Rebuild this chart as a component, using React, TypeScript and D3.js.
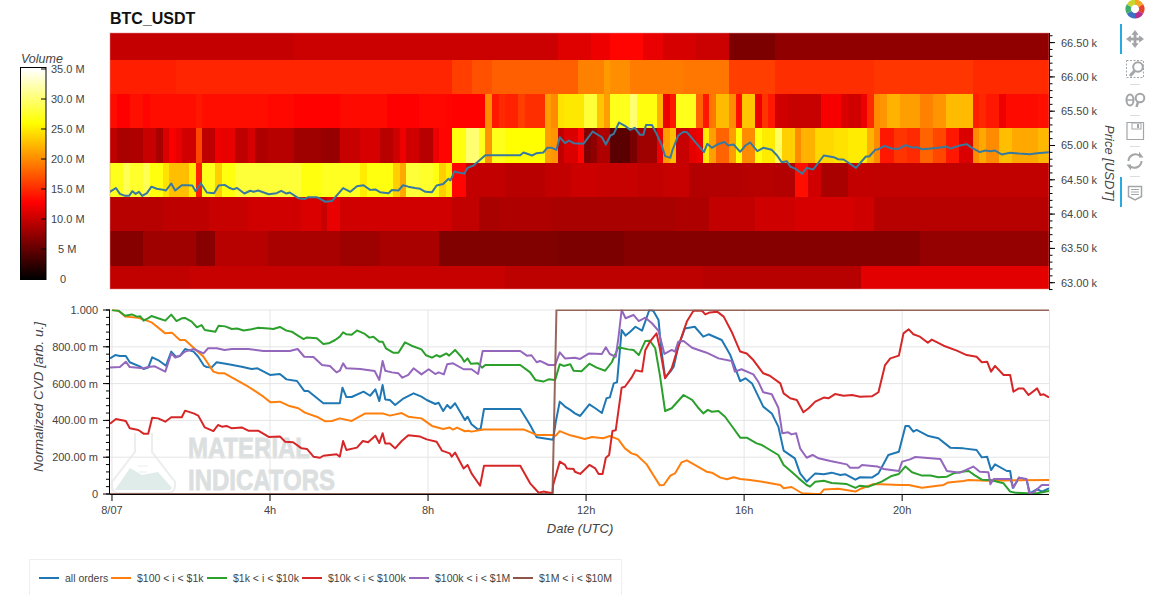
import React from "react";
import * as d3 from "d3";

type Pair = [number, number];

const title = "BTC_USDT";
const priceTicks = [63, 63.5, 64, 64.5, 65, 65.5, 66, 66.5];
const cvdTicks = [0, 0.2, 0.4, 0.6, 0.8, 1];
const cvdTickLabels = ["0", "200.00 m", "400.00 m", "600.00 m", "800.00 m", "1.000"];
const hourTicks = [0, 4, 8, 12, 16, 20];
const hourLabels = ["8/07", "4h", "8h", "12h", "16h", "20h"];
const volumeTicks = [0, 5, 10, 15, 20, 25, 30, 35];
const volumeLabels = ["0", "5 M", "10.0 M", "15.0 M", "20.0 M", "25.0 M", "30.0 M", "35.0 M"];

// heat rows: [first 10-minute column, volume in millions]
const vol66500: Pair[] = [[0,9.9],[28,10.2],[68,11.2],[73,12],[76,13],[81,11.7],[84,10.8],[89,10.2],[94,6.2],[101,7.3]];
const vol66000: Pair[] = [[0,14.4],[10,14.7],[52,16],[55,17],[58,17.7],[71,19.5],[75,20.8],[76,20.2],[79,19.2],[87,18.9],[94,16],[101,15.2],[116,15.6],[131,15]];
const vol65500: Pair[] = [[0,13.4],[1,12.8],[3,13.6],[5,13],[6,13.5],[13,14],[14,13.5],[24,13.2],[28,12.9],[35,13.3],[42,12.8],[47,13.2],[51,13],[52,12.9],[57,20.2],[58,14],[59,15],[60,14.5],[62,16],[63,15.2],[66,21],[67,20],[68,24.5],[69,24.8],[72,28],[74,23],[75,21],[76,27],[79,30],[80,26.5],[83,22],[84,12],[85,14],[86,27],[89,18],[90,14],[91,19],[92,22.5],[94,20],[95,13.5],[96,23],[98,12],[99,15.5],[100,14],[101,10.5],[103,10],[108,12.5],[111,11],[112,10.5],[114,12],[115,15],[116,20],[117,20.5],[118,22],[120,21],[123,19.5],[125,20.5],[127,22.5],[131,14.3],[132,14.8],[133,14],[135,12],[136,13.3],[141,13.6]];
const vol65000: Pair[] = [[0,9.6],[1,8.5],[3,8.8],[5,10],[7,8.5],[8,11],[9,12.5],[10,11.7],[11,10.5],[13,16.5],[14,9.6],[16,12],[17,11.7],[19,9.6],[21,10.8],[22,8.8],[24,9.2],[28,8],[32,7.6],[35,10],[38,10.8],[41,9.3],[43,10.5],[44,12],[45,10.5],[47,9.2],[49,12],[50,13],[52,26.5],[54,30],[56,27],[57,20.5],[58,27],[60,26],[66,21],[67,20.5],[68,9.6],[69,11],[71,13],[72,6.5],[73,7.2],[74,8.8],[76,4.5],[79,6],[80,8],[83,12],[84,21],[85,22.7],[86,10],[88,11.5],[89,12],[90,25],[91,21],[92,18],[94,21],[95,26],[96,20],[98,26.5],[99,25],[101,29.5],[102,23.5],[104,20],[105,22],[107,24],[110,24.5],[112,25],[115,22],[116,20],[117,14],[119,15.5],[121,15],[123,18],[125,16.5],[127,14],[129,11],[131,20],[132,21.5],[133,20],[135,22.7],[137,21.5],[141,22.3]];
const vol64500: Pair[] = [[0,27],[2,29],[3,27.5],[5,29],[6,26.5],[8,24.5],[9,22.7],[12,25],[13,14.5],[14,27],[16,23.5],[17,26.5],[19,28],[29,26.5],[32,27.2],[38,25],[39,26.5],[43,23.5],[44,21.5],[45,28],[47,27.5],[49,26.5],[50,23.5],[51,25],[52,13],[54,9.8],[60,9.3],[66,9.8],[70,10.3],[74,10],[80,9.7],[84,10],[88,9],[96,9.2],[101,9],[104,13.5],[106,10.5],[108,8.5],[112,9.8],[116,9.7]];
const vol64000: Pair[] = [[0,9.2],[8,9.6],[15,10],[21,10.5],[29,11],[32,10],[33,11.7],[35,10.5],[52,9.7],[56,8.5],[59,8.8],[67,8.5],[86,8.8],[91,9.8],[98,10.4],[104,10.8],[113,10.4],[116,9.2]];
const vol63500: Pair[] = [[0,6.8],[5,8],[13,6.9],[16,9.2],[24,8.5],[35,8],[41,8.5],[50,6.5],[68,6.2],[78,6.8],[123,7.5]];
const vol63000: Pair[] = [[0,9.7],[12,10],[60,9.5],[90,9.2],[114,11.4]];
const heatPrices = [66.5, 66, 65.5, 65, 64.5, 64, 63.5, 63];
const heatVolumes = [vol66500, vol66000, vol65500, vol65000, vol64500, vol64000, vol63500, vol63000];

// BTC price: [minute, price in thousands]
const pricePts: Pair[] = [[-4,64.32],[6,64.38],[12,64.295],[20,64.266],[26,64.266],[31,64.334],[36,64.295],[41,64.325],[46,64.266],[53,64.305],[60,64.4],[68,64.37],[75,64.36],[82,64.344],[90,64.446],[96,64.344],[106,64.42],[115,64.42],[122,64.417],[127,64.334],[135,64.45],[144,64.315],[155,64.305],[162,64.417],[171,64.426],[179,64.38],[184,64.36],[190,64.38],[201,64.3],[210,64.34],[215,64.325],[222,64.344],[238,64.29],[250,64.305],[257,64.34],[265,64.3],[270,64.315],[283,64.232],[293,64.22],[298,64.247],[311,64.247],[324,64.18],[334,64.19],[351,64.38],[362,64.325],[372,64.407],[382,64.42],[392,64.353],[400,64.36],[407,64.32],[420,64.305],[425,64.35],[435,64.344],[442,64.42],[450,64.4],[460,64.38],[468,64.368],[476,64.325],[486,64.32],[493,64.417],[503,64.44],[511,64.514],[514,64.49],[520,64.62],[526,64.606],[535,64.59],[540,64.674],[549,64.708],[567,64.859],[620,64.859],[625,64.898],[638,64.854],[645,64.888],[655,64.898],[661,64.966],[668,64.966],[675,64.937],[680,65.12],[688,65.034],[694,65.073],[701,65.034],[716,65.024],[730,65.204],[744,65.12],[750,65.014],[757,65.146],[762,65.17],[770,65.335],[779,65.287],[787,65.228],[794,65.258],[802,65.155],[807,65.155],[811,65.297],[820,65.3],[827,65.17],[835,65],[840,64.845],[848,64.82],[851,64.927],[860,65.146],[868,65.2],[873,65.194],[883,65.083],[899,64.903],[904,65.024],[911,64.966],[919,65.014],[930,65.05],[936,65],[944,65.014],[954,64.908],[962,65],[969,65.044],[980,64.917],[989,64.966],[1002,64.937],[1010,64.854],[1017,64.757],[1025,64.77],[1030,64.694],[1038,64.66],[1048,64.587],[1055,64.674],[1065,64.65],[1081,64.854],[1096,64.83],[1103,64.8],[1111,64.796],[1130,64.674],[1136,64.742],[1145,64.84],[1150,64.84],[1159,64.937],[1164,64.946],[1173,64.995],[1184,64.956],[1194,64.95],[1205,65.005],[1215,64.97],[1222,64.976],[1230,64.946],[1243,64.956],[1255,64.966],[1268,64.985],[1273,64.956],[1286,64.995],[1298,65.02],[1306,64.966],[1318,64.903],[1326,64.927],[1334,64.917],[1341,64.927],[1351,64.87],[1364,64.893],[1377,64.883],[1394,64.874],[1405,64.888],[1425,64.903]];

// normalized CVD: [minute, value]
const cvdAll: Pair[] = [[-3,0.737],[5,0.755],[12,0.75],[21,0.75],[27,0.716],[43,0.692],[48,0.679],[55,0.687],[61,0.743],[70,0.728],[82,0.697],[90,0.774],[97,0.746],[103,0.75],[111,0.788],[124,0.774],[131,0.746],[140,0.696],[144,0.69],[151,0.687],[159,0.716],[177,0.705],[197,0.692],[212,0.679],[221,0.683],[240,0.647],[255,0.652],[265,0.623],[281,0.614],[292,0.56],[298,0.56],[321,0.493],[346,0.493],[350,0.578],[356,0.527],[364,0.527],[382,0.556],[392,0.534],[400,0.569],[406,0.505],[411,0.592],[415,0.514],[422,0.511],[430,0.484],[443,0.52],[458,0.547],[470,0.529],[478,0.511],[491,0.489],[496,0.496],[503,0.451],[509,0.484],[514,0.466],[521,0.493],[536,0.402],[540,0.42],[546,0.379],[556,0.35],[560,0.357],[565,0.462],[620,0.462],[635,0.375],[645,0.308],[670,0.295],[674,0.393],[680,0.502],[688,0.475],[696,0.457],[703,0.438],[711,0.424],[725,0.487],[734,0.466],[744,0.44],[751,0.52],[756,0.525],[762,0.601],[767,0.607],[774,0.891],[780,0.861],[787,0.882],[795,0.909],[805,0.888],[816,1],[822,0.996],[830,0.946],[834,0.792],[840,0.632],[848,0.665],[853,0.692],[860,0.801],[870,0.9],[885,0.909],[898,0.855],[906,0.868],[926,0.837],[939,0.755],[954,0.614],[962,0.629],[972,0.601],[989,0.475],[1002,0.438],[1012,0.366],[1020,0.236],[1037,0.194],[1045,0.112],[1055,0.067],[1060,0.085],[1068,0.112],[1081,0.107],[1093,0.116],[1106,0.103],[1114,0.107],[1129,0.078],[1136,0.091],[1154,0.089],[1164,0.112],[1179,0.212],[1195,0.23],[1205,0.37],[1210,0.37],[1217,0.339],[1222,0.348],[1240,0.315],[1255,0.303],[1273,0.252],[1293,0.248],[1313,0.239],[1321,0.199],[1329,0.203],[1335,0.13],[1341,0.161],[1359,0.125],[1364,0.125],[1368,0.034],[1378,0.089],[1389,0.076],[1394,0.004],[1405,0.027],[1412,0.013],[1423,0.031]];
const cvd100to1k: Pair[] = [[0,1],[10,0.996],[20,0.964],[40,0.958],[53,0.942],[60,0.933],[81,0.873],[91,0.877],[103,0.837],[111,0.837],[126,0.788],[139,0.746],[154,0.665],[162,0.656],[171,0.656],[207,0.583],[217,0.56],[230,0.529],[241,0.498],[255,0.502],[268,0.48],[283,0.466],[293,0.442],[313,0.417],[324,0.395],[334,0.397],[346,0.411],[364,0.397],[384,0.437],[412,0.437],[422,0.426],[440,0.44],[450,0.42],[470,0.411],[486,0.37],[503,0.353],[513,0.361],[518,0.35],[524,0.361],[536,0.341],[541,0.344],[546,0.339],[564,0.351],[625,0.351],[645,0.321],[670,0.321],[674,0.317],[680,0.342],[696,0.319],[711,0.306],[718,0.299],[729,0.31],[746,0.303],[756,0.315],[769,0.297],[779,0.248],[789,0.221],[797,0.212],[812,0.161],[822,0.103],[832,0.047],[838,0.049],[848,0.1],[855,0.112],[865,0.172],[873,0.183],[881,0.167],[903,0.121],[911,0.116],[924,0.089],[934,0.08],[944,0.091],[954,0.082],[969,0.076],[994,0.063],[1015,0.049],[1020,0.031],[1032,0.038],[1048,0.004],[1068,0],[1076,0.002],[1081,0.024],[1103,0.029],[1129,0.013],[1136,0.027],[1157,0.054],[1197,0.049],[1210,0.049],[1230,0.034],[1263,0.049],[1270,0.063],[1293,0.071],[1301,0.076],[1329,0.072],[1354,0.074],[1423,0.076]];
const cvd1kto10k: Pair[] = [[0,1],[10,0.996],[20,0.969],[30,0.976],[38,0.964],[43,0.966],[48,0.942],[53,0.951],[60,0.967],[70,0.955],[81,0.942],[90,0.975],[98,0.94],[106,0.955],[111,0.957],[121,0.937],[129,0.906],[136,0.918],[141,0.891],[157,0.882],[162,0.915],[172,0.911],[182,0.897],[190,0.899],[200,0.889],[212,0.895],[222,0.904],[238,0.899],[245,0.897],[255,0.908],[265,0.888],[273,0.882],[283,0.859],[291,0.842],[296,0.851],[311,0.846],[321,0.815],[329,0.819],[339,0.837],[346,0.855],[351,0.879],[356,0.868],[364,0.866],[372,0.889],[384,0.87],[391,0.85],[397,0.855],[406,0.828],[411,0.828],[416,0.792],[427,0.768],[435,0.768],[445,0.824],[455,0.806],[470,0.786],[477,0.754],[486,0.741],[493,0.755],[498,0.746],[508,0.764],[512,0.752],[521,0.783],[531,0.743],[535,0.719],[540,0.737],[545,0.708],[556,0.71],[562,0.687],[567,0.701],[620,0.701],[635,0.661],[643,0.62],[655,0.611],[663,0.623],[673,0.62],[680,0.705],[686,0.696],[696,0.705],[701,0.67],[713,0.667],[725,0.708],[736,0.687],[749,0.67],[759,0.716],[769,0.797],[784,0.786],[792,0.783],[800,0.755],[810,0.832],[817,0.833],[825,0.792],[832,0.647],[840,0.451],[850,0.466],[868,0.538],[881,0.511],[891,0.466],[898,0.438],[905,0.457],[911,0.447],[921,0.451],[931,0.42],[941,0.371],[954,0.306],[964,0.306],[979,0.275],[987,0.266],[1012,0.212],[1020,0.158],[1032,0.121],[1043,0.085],[1055,0.049],[1060,0.04],[1068,0.067],[1081,0.072],[1093,0.06],[1116,0.054],[1129,0.033],[1136,0.045],[1149,0.04],[1169,0.067],[1184,0.098],[1195,0.109],[1205,0.15],[1215,0.118],[1230,0.1],[1243,0.101],[1255,0.091],[1268,0.094],[1278,0.112],[1291,0.121],[1301,0.125],[1311,0.1],[1321,0.078],[1334,0.076],[1354,0.058],[1364,0.013],[1372,0.007],[1389,0.004],[1405,0.004],[1423,0.016]];
const cvd10kto100k: Pair[] = [[-3,0.382],[6,0.408],[21,0.397],[27,0.357],[40,0.348],[48,0.328],[55,0.328],[61,0.415],[70,0.411],[81,0.393],[90,0.417],[106,0.417],[111,0.453],[124,0.438],[131,0.426],[141,0.362],[154,0.342],[161,0.375],[167,0.366],[174,0.37],[182,0.357],[197,0.362],[207,0.344],[222,0.344],[238,0.31],[255,0.313],[263,0.284],[275,0.281],[288,0.248],[296,0.245],[306,0.203],[316,0.197],[321,0.208],[341,0.216],[346,0.203],[351,0.288],[356,0.239],[372,0.252],[381,0.288],[389,0.281],[400,0.317],[406,0.277],[411,0.33],[415,0.275],[422,0.275],[430,0.248],[440,0.288],[450,0.319],[468,0.312],[478,0.297],[493,0.284],[501,0.236],[513,0.221],[516,0.203],[521,0.225],[534,0.139],[540,0.158],[546,0.112],[559,0.045],[565,0.154],[620,0.154],[635,0.058],[648,0.007],[655,0.013],[669,0.004],[670,0.049],[680,0.176],[688,0.158],[691,0.139],[701,0.136],[703,0.121],[711,0.109],[725,0.158],[734,0.139],[739,0.109],[745,0.109],[750,0.197],[755,0.212],[760,0.342],[765,0.346],[774,0.578],[779,0.583],[789,0.632],[795,0.672],[805,0.665],[810,0.783],[817,0.828],[827,0.873],[832,0.792],[840,0.629],[850,0.683],[860,0.801],[873,0.937],[883,0.996],[896,0.996],[901,0.976],[908,0.987],[919,0.991],[929,0.964],[941,0.882],[954,0.774],[964,0.764],[974,0.728],[989,0.656],[999,0.643],[1015,0.601],[1020,0.547],[1030,0.52],[1040,0.511],[1050,0.444],[1058,0.466],[1068,0.502],[1081,0.524],[1088,0.52],[1098,0.543],[1111,0.534],[1124,0.538],[1136,0.529],[1154,0.531],[1164,0.553],[1174,0.701],[1182,0.737],[1195,0.752],[1202,0.873],[1210,0.895],[1217,0.868],[1227,0.855],[1239,0.822],[1245,0.839],[1263,0.806],[1283,0.779],[1298,0.755],[1313,0.746],[1321,0.716],[1329,0.719],[1335,0.665],[1341,0.696],[1354,0.647],[1364,0.647],[1369,0.556],[1377,0.574],[1384,0.574],[1392,0.538],[1405,0.574],[1410,0.538],[1415,0.542],[1423,0.525]];
const cvd100kto1m: Pair[] = [[-3,0.687],[12,0.69],[21,0.719],[27,0.69],[48,0.683],[55,0.69],[65,0.694],[81,0.665],[90,0.764],[96,0.741],[103,0.75],[111,0.774],[124,0.788],[139,0.764],[146,0.792],[159,0.792],[171,0.783],[182,0.788],[207,0.788],[230,0.777],[270,0.777],[282,0.788],[292,0.746],[306,0.745],[319,0.701],[331,0.696],[341,0.661],[346,0.67],[351,0.71],[356,0.683],[377,0.679],[399,0.668],[406,0.62],[411,0.723],[415,0.67],[425,0.661],[435,0.656],[441,0.632],[450,0.647],[458,0.683],[470,0.65],[481,0.678],[491,0.652],[496,0.661],[504,0.65],[509,0.705],[518,0.71],[534,0.678],[546,0.678],[556,0.652],[563,0.777],[620,0.777],[630,0.752],[637,0.754],[645,0.716],[650,0.723],[663,0.701],[673,0.701],[680,0.77],[688,0.737],[703,0.741],[711,0.734],[724,0.763],[744,0.761],[750,0.797],[756,0.761],[765,0.746],[769,0.846],[774,1],[780,0.955],[792,0.973],[800,0.94],[810,0.958],[820,0.928],[830,0.886],[839,0.761],[850,0.783],[855,0.774],[860,0.828],[868,0.832],[881,0.795],[903,0.768],[911,0.755],[921,0.737],[941,0.723],[946,0.665],[956,0.678],[974,0.65],[982,0.607],[989,0.553],[1002,0.542],[1012,0.469],[1018,0.33],[1027,0.335],[1032,0.324],[1039,0.33],[1045,0.248],[1055,0.197],[1064,0.212],[1073,0.194],[1091,0.179],[1116,0.161],[1121,0.143],[1134,0.143],[1139,0.158],[1162,0.15],[1172,0.136],[1195,0.125],[1200,0.176],[1212,0.188],[1220,0.201],[1258,0.19],[1268,0.125],[1288,0.116],[1308,0.149],[1318,0.121],[1331,0.118],[1334,0.053],[1339,0.082],[1364,0.082],[1369,0.034],[1377,0.089],[1389,0.082],[1393,0.004],[1400,0.009],[1412,0.049],[1423,0.049]];
const cvd1mto10m: Pair[] = [[-3,0],[669,0],[675,1],[1423,1]];

const seriesNames = ["all orders", "$100 < i < $1k", "$1k < i < $10k", "$10k < i < $100k", "$100k < i < $1M", "$1M < i < $10M"];
const seriesColors = ["#1f77b4", "#ff7f0e", "#2ca02c", "#d62728", "#9467bd", "#8c564b"];
const seriesData = [cvdAll, cvd100to1k, cvd1kto10k, cvd10kto100k, cvd100kto1m, cvd1mto10m];
const legendLineX = [39, 111, 207, 302, 409, 513];

const FONT = "'Liberation Sans', Arial, sans-serif";
const GRAY = "#444";

const xScale = d3.scaleLinear().domain([-3, 1423]).range([110, 1049]);
const yPrice = d3.scaleLinear().domain([62.908, 66.64]).range([289, 33]);
const yCvd = d3.scaleLinear().domain([0, 1]).range([494, 310]);
const yVol = d3.scaleLinear().domain([0, 35]).range([279, 69]);
const heat = d3.scaleLinear<string>().domain([0, 12.8, 26, 35]).range(["#000000", "#ff0000", "#ffff00", "#ffffff"]).clamp(true);
const colMinute = (c: number) => c * 10 - 3;
const lineGen = d3.line<Pair>().x((d) => xScale(d[0])).y((d) => yCvd(d[1]));
const priceLine = d3.line<Pair>().x((d) => xScale(d[0])).y((d) => yPrice(d[1]));

function Toolbar() {
  const c = "#a3a6a8";
  const arc = d3.arc();
  const colors = ["#f5a623", "#e8412c", "#b5308e", "#3d6fc4", "#3fae6d", "#c9d530"];
  return (
    <g>
      <g transform="translate(1135 9)">
        {colors.map((col, i) => (
          <path key={i} fill={col} d={arc({ innerRadius: 4.2, outerRadius: 9.5, startAngle: (i * Math.PI) / 3, endAngle: ((i + 1) * Math.PI) / 3 }) || ""} />
        ))}
      </g>
      <rect x={1120} y={24} width={2} height={30} fill="#26aae1" />
      <rect x={1120} y={177} width={2} height={30} fill="#26aae1" />
      {/* pan */}
      <path d="M1135 30.5l3 4h-2v3.5h3.500v-2l4 3-4 3v-2h-3.500v3.500h2l-3 4-3-4h2v-3.500h-3.500v2l-4-3 4-3v2h3.500v-3.500h-2z" fill={c} stroke={c} strokeWidth={0.8} />
      {/* box zoom */}
      <rect x={1126.500} y={60.500} width={17} height={17} fill="none" stroke={c} strokeDasharray="2 1.500" />
      <circle cx={1138} cy={67} r={4.800} fill="#fff" stroke={c} strokeWidth={2} />
      <path d="M1134.500 71l-4.500 5" stroke={c} strokeWidth={3} />
      <rect x={1130} y={84} width={10} height={1} fill="#ddd" />
      {/* wheel zoom */}
      <ellipse cx={1130} cy={100} rx={3.500} ry={5.500} fill="none" stroke={c} strokeWidth={2} />
      <path d="M1127 100h6" stroke={c} strokeWidth={1.500} />
      <circle cx={1140} cy={98} r={4.300} fill="none" stroke={c} strokeWidth={2} />
      <path d="M1138 102l-1.500 5" stroke={c} strokeWidth={2.500} />
      <rect x={1130} y={115} width={10} height={1} fill="#ddd" />
      {/* save */}
      <path d="M1127 122.500h16.500v17h-16.500z" fill="none" stroke={c} strokeWidth={1.200} />
      <rect x={1132} y={123} width={9} height={6} fill="none" stroke={c} />
      <rect x={1137} y={124} width={2} height={4} fill={c} />
      <rect x={1130} y={146} width={10} height={1} fill="#ddd" />
      {/* reset */}
      <path d="M1128.500 161a7 7 0 0 1 11-5.500M1141.500 161a7 7 0 0 1-11 5.500" fill="none" stroke={c} strokeWidth={2} />
      <path d="M1139 151.500v6h4.500zM1131 170.500v-6h-4.500z" fill={c} />
      <rect x={1130} y={176} width={10} height={1} fill="#ddd" />
      {/* hover */}
      <path d="M1128.500 186.500h13v10l-6.500 3.500-6.500-3.500z" fill="none" stroke={c} strokeWidth={1.500} />
      <path d="M1131 189.500h8M1131 192h8M1131 194.500h8" stroke={c} />
    </g>
  );
}

function Watermark() {
  return (
    <g>
      <path d="M135 433v19l-23 30q-1 11 6 11h50q8 0 7-11l-23-30v-19" fill="none" stroke="#eceeee" strokeWidth={2} />
      <path d="M115 490l15-22 12 7 16-3 14 16-2 2z" fill="#dfecea" />
      <path d="M138 466h10M139 472h8M140 478h6" stroke="#e6eeec" />
      <g fontFamily="'Liberation Sans Narrow','Liberation Sans',Arial,sans-serif" fontWeight={700} fontSize={29} fill="#dcdfe0" stroke="#dcdfe0" strokeWidth={0.8}>
        <text x={188} y={458} textLength={122} lengthAdjust="spacingAndGlyphs">MATERIAL</text>
        <text x={188} y={490} textLength={147} lengthAdjust="spacingAndGlyphs">INDICATORS</text>
      </g>
    </g>
  );
}

export default function App() {
  const nCols = 143;
  const barSteps = d3.range(0, 210);
  const priceMinor = d3.range(62.9, 66.65, 0.1);
  const cvdMinor = d3.range(0, 1.0001, 0.04);
  return (
    <svg width={1155} height={595} viewBox="0 0 1155 595" style={{ position: "absolute", left: 0, top: 0, background: "#fff" }} fontFamily={FONT}>
      <defs>
        <clipPath id="heatClip"><rect x={110} y={33} width={939} height={256} /></clipPath>
        <clipPath id="cvdClip"><rect x={110} y={309.5} width={939} height={185.5} /></clipPath>
      </defs>
      <text x={110} y={24} fontSize={16} fontWeight={700} fill="#111">{title}</text>

      {/* heatmap */}
      <g clipPath="url(#heatClip)" shapeRendering="crispEdges">
        {heatVolumes.map((segs, r) => {
          const p = heatPrices[r];
          return segs.map((s, i) => {
            const endCol = i + 1 < segs.length ? segs[i + 1][0] : nCols;
            return (
              <rect key={`${r}-${i}`} x={xScale(colMinute(s[0]))} width={xScale(colMinute(endCol)) - xScale(colMinute(s[0])) + 0.4}
                y={yPrice(p + 0.25)} height={yPrice(p - 0.25) - yPrice(p + 0.25) + 0.4} fill={heat(s[1])} />
            );
          });
        })}
      </g>
      <g clipPath="url(#heatClip)">
        <path d={priceLine(pricePts) || ""} fill="none" stroke="#38799f" strokeWidth={2} strokeLinejoin="round" />
      </g>
      <rect x={110} y={33} width={939} height={256} fill="none" stroke="#e88" strokeOpacity={0.5} />

      {/* right axis */}
      <line x1={1049.500} x2={1049.500} y1={33} y2={289} stroke="#000" />
      {priceMinor.map((p) => (
        <line key={p} x1={1049} x2={1052.500} y1={yPrice(p)} y2={yPrice(p)} stroke="#000" />
      ))}
      {priceTicks.map((p) => (
        <g key={p}>
          <line x1={1049} x2={1055} y1={yPrice(p)} y2={yPrice(p)} stroke="#000" />
          <text x={1061} y={yPrice(p) + 4} fontSize={11} fill={GRAY}>{`${p.toFixed(2)} k`}</text>
        </g>
      ))}
      <text transform="translate(1105 163) rotate(90)" textAnchor="middle" fontSize={13} fontStyle="italic" fill={GRAY}>Price [USDT]</text>

      {/* colour bar */}
      <text x={21} y={63} fontSize={12.500} fontStyle="italic" fill={GRAY}>Volume</text>
      <g shapeRendering="crispEdges">
        {barSteps.map((i) => (
          <rect key={i} x={20} width={26} y={yVol(35) + i} height={1.2} fill={heat(yVol.invert(yVol(35) + i + 0.5))} />
        ))}
        <rect x={20} y={67} width={26} height={2} fill="#fff" />
      </g>
      <rect x={20.500} y={67.500} width={25.500} height={212} fill="none" stroke="#000" />
      {volumeTicks.map((v, i) => (
        <g key={v}>
          <line x1={41} x2={46} y1={yVol(v)} y2={yVol(v)} stroke="#000" />
          <text x={i < 2 ? (i === 0 ? 60 : 58) : 51} y={yVol(v) + 4} fontSize={11} fill={GRAY}>{volumeLabels[i]}</text>
        </g>
      ))}

      {/* CVD panel */}
      <Watermark />
      {cvdTicks.map((v) => (
        <line key={v} x1={110} x2={1049} y1={yCvd(v)} y2={yCvd(v)} stroke="#e5e5e5" />
      ))}
      {hourTicks.map((h) => (
        <line key={h} x1={xScale(h * 60)} x2={xScale(h * 60)} y1={310} y2={494} stroke="#e5e5e5" />
      ))}
      <line x1={1049.500} x2={1049.500} y1={310} y2={494} stroke="#e5e5e5" />
      <g clipPath="url(#cvdClip)">
        {seriesData.map((d, i) => (
          <path key={i} d={lineGen(d) || ""} fill="none" stroke={seriesColors[i]} strokeWidth={2} strokeOpacity={i === 5 ? 0.9 : 1} strokeLinejoin="round" />
        ))}
      </g>
      <line x1={110} x2={1049} y1={494.500} y2={494.500} stroke="#000" />
      <line x1={109.500} x2={109.500} y1={310} y2={494} stroke="#000" />
      {cvdMinor.map((v) => (
        <line key={v} x1={106} x2={110} y1={yCvd(v)} y2={yCvd(v)} stroke="#000" />
      ))}
      {cvdTicks.map((v, i) => (
        <g key={v}>
          <line x1={103} x2={110} y1={yCvd(v)} y2={yCvd(v)} stroke="#000" />
          <text x={98} y={yCvd(v) + 4} textAnchor="end" fontSize={11} fill={GRAY}>{cvdTickLabels[i]}</text>
        </g>
      ))}
      {hourTicks.map((h, i) => (
        <g key={h}>
          <line x1={xScale(h * 60)} x2={xScale(h * 60)} y1={494} y2={501} stroke="#000" />
          <text x={xScale(h * 60)} y={514} textAnchor="middle" fontSize={11} fill={GRAY}>{hourLabels[i]}</text>
        </g>
      ))}
      <text x={580} y={533} textAnchor="middle" fontSize={13} fontStyle="italic" fill={GRAY}>Date (UTC)</text>
      <text transform="translate(43 397) rotate(-90)" textAnchor="middle" fontSize={13.500} fontStyle="italic" fill={GRAY}>Normalized CVD [arb. u.]</text>

      {/* legend */}
      <rect x={29.500} y={559.500} width={592} height={40} fill="#fff" stroke="#eeeeee" />
      {seriesNames.map((n, i) => (
        <g key={n}>
          <line x1={legendLineX[i]} x2={legendLineX[i] + 20} y1={578} y2={578} stroke={seriesColors[i]} strokeWidth={2} />
          <text x={legendLineX[i] + 26} y={582} fontSize={10.500} fill={GRAY}>{n}</text>
        </g>
      ))}
      <Toolbar />
    </svg>
  );
}
